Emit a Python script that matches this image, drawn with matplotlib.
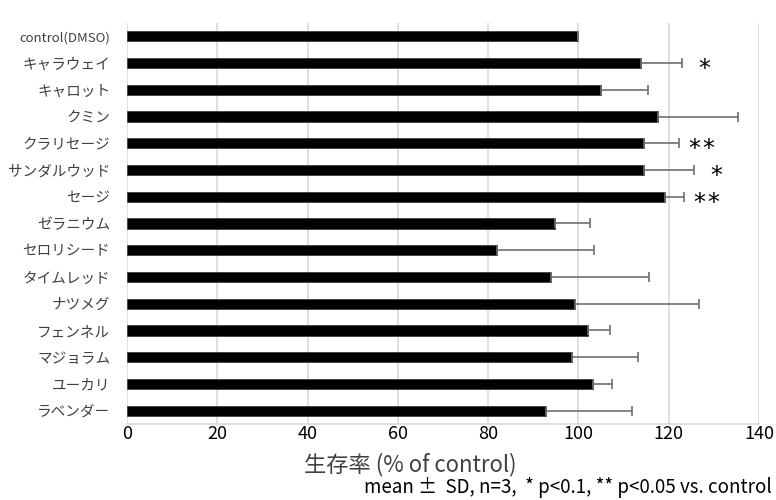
import numpy as np
import matplotlib
matplotlib.use('Agg')
import matplotlib.pyplot as plt

plt.rcParams['font.family'] = ['Noto Sans CJK JP', 'DejaVu Sans']

# データ
labels = ['control(DMSO)', 'キャラウェイ', 'キャロット', 'クミン', 'クラリセージ',
          'サンダルウッド', 'セージ', 'ゼラニウム', 'セロリシード', 'タイムレッド',
          'ナツメグ', 'フェンネル', 'マジョラム', 'ユーカリ', 'ラベンダー']
means = [100, 113.8, 104.9, 117.5, 114.6, 114.4, 119.1, 94.8, 81.9, 94.0,
         99.3, 102.1, 98.6, 103.2, 92.7]
sds = [0, 9.1, 10.6, 17.8, 7.6, 11.2, 4.3, 7.7, 21.6, 21.7,
       27.5, 4.9, 14.6, 4.3, 19.1]
sig = ['', '*', '', '', '**', '*', '**', '', '', '', '', '', '', '', '']
xticks = [0, 20, 40, 60, 80, 100, 120, 140]

fig = plt.figure(figsize=(7.76, 5.0), dpi=100)
ax = fig.add_axes([0.1637, 0.152, 0.8145, 0.802])

y = np.arange(len(labels))
ax.barh(y, means, height=0.38, color='black', edgecolor='#404040', linewidth=0.6, zorder=3)
ax.errorbar(means, y, xerr=[np.zeros(len(sds)), sds], fmt='none', ecolor='#6e6e6e',
            elinewidth=1.2, capsize=3.5, capthick=1.2, zorder=4)

# 有意差の印（星を1つずつ置く）
for i, s in enumerate(sig):
    n = len(s)
    for k in range(n):
        xs = means[i] + sds[i] + 5 + (k - (n - 1) / 2) * 3.1
        ax.text(xs, y[i] + 0.22, '*', ha='center', va='center',
                fontsize=17, color='black', family='DejaVu Sans')

ax.set_xlim(0, 140)
ax.set_ylim(len(labels) - 0.5, -0.5)
ax.set_xticks(xticks)
ax.set_yticks(y)
ax.set_yticklabels(labels, color='#404040')
for t in ax.get_yticklabels():
    t.set_fontsize(9.5 if t.get_text().startswith('control') else 10.5)
ax.tick_params(axis='x', labelsize=13, colors='black', length=0, pad=1)
ax.tick_params(axis='y', length=0, pad=12)
ax.grid(axis='x', color='#d9d9d9', linewidth=1.2, zorder=0)
for side in ['top', 'right', 'left']:
    ax.spines[side].set_visible(False)
ax.spines['bottom'].set_color('#d9d9d9')
ax.spines['bottom'].set_linewidth(1.2)

ax.set_xlabel('生存率 (% of control)', fontsize=16, color='#404040')
ax.xaxis.set_label_coords(0.448, -0.072)
fig.text(0.994, 0.026, 'mean ±  SD, n=3,  * p<0.1, ** p<0.05 vs. control',
         ha='right', va='center', fontsize=13.5, color='black')

fig.savefig('out.png', dpi=100)
